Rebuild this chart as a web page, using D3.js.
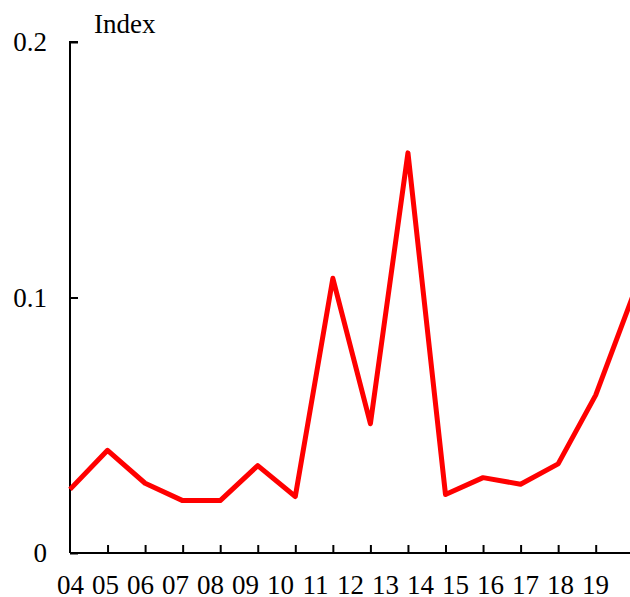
<!DOCTYPE html>
<html>
<head>
<meta charset="utf-8">
<script src="https://cdn.jsdelivr.net/npm/d3@7/dist/d3.min.js"></script>
<style>
  html, body { margin: 0; padding: 0; background: #fff; }
  svg { display: block; }
  text { font-family: "Liberation Serif", "Times New Roman", serif; fill: #000; }
</style>
</head>
<body>
<script>
// Years shown on the horizontal axis
const years = ["04","05","06","07","08","09","10","11","12","13","14","15","16","17","18","19"];
// Index value per year
const indexValues = [0.0249, 0.0402, 0.0273, 0.0205, 0.0205, 0.0342, 0.0221, 0.1075, 0.0506, 0.1566, 0.0229, 0.0295, 0.0269, 0.0349, 0.0618, 0.1010];
// Vertical axis ticks and their labels
const yTicks = [0, 0.1, 0.2];
const yTickLabels = ["0", "0.1", "0.2"];
const yTitle = "Index";

(function () {
  const W = 630, H = 597;
  const svg = d3.select("body").append("svg").attr("width", W).attr("height", H);

  // Plot frame
  const plotLeft = 70, plotBottom = 553, plotTop = 42;
  const step = 37.55;

  const x = d3.scalePoint().domain(years).range([plotLeft, plotLeft + step * (years.length - 1)]);
  const xLabel = d3.scalePoint().domain(years).range([70.5, 595.5]);
  const y = d3.scaleLinear().domain([0, 0.2]).range([plotBottom, plotTop]);

  // Y axis: line with inward ticks
  const yAxis = d3.axisRight(y).tickValues(yTicks).tickSize(8).tickFormat("");
  const gy = svg.append("g").attr("transform", `translate(${plotLeft},0)`).call(yAxis);
  gy.select(".domain").attr("d", `M8,${plotTop}H0V${plotBottom}`);

  // X axis: line with inward ticks
  const xAxis = d3.axisTop(x).tickValues(years.slice(1)).tickSize(8).tickFormat("");
  const gx = svg.append("g").attr("transform", `translate(0,${plotBottom})`).call(xAxis);
  gx.select(".domain").attr("d", `M${plotLeft},0H${W}`);

  svg.selectAll(".domain").attr("stroke", "#000").attr("stroke-width", 2).attr("fill", "none");
  svg.selectAll(".tick line").attr("stroke", "#000").attr("stroke-width", 2);

  // Y tick labels
  svg.append("g").selectAll("text").data(yTicks).join("text")
    .attr("x", 47)
    .attr("y", d => y(d))
    .attr("dy", "0.34em")
    .attr("text-anchor", "end")
    .attr("font-size", 27)
    .text((d, i) => yTickLabels[i]);

  // Axis title
  svg.append("text")
    .attr("x", 94).attr("y", 33)
    .attr("font-size", 27)
    .text(yTitle);

  // X tick labels
  svg.append("g").selectAll("text").data(years).join("text")
    .attr("x", d => xLabel(d))
    .attr("y", 594)
    .attr("text-anchor", "middle")
    .attr("font-size", 27)
    .text(d => d);

  // Index line
  const line = d3.line().x((d, i) => x(years[i])).y(d => y(d));
  svg.append("path")
    .datum(indexValues)
    .attr("d", line)
    .attr("fill", "none")
    .attr("stroke", "#ff0000")
    .attr("stroke-width", 5)
    .attr("stroke-linejoin", "round");
})();
</script>
</body>
</html>
